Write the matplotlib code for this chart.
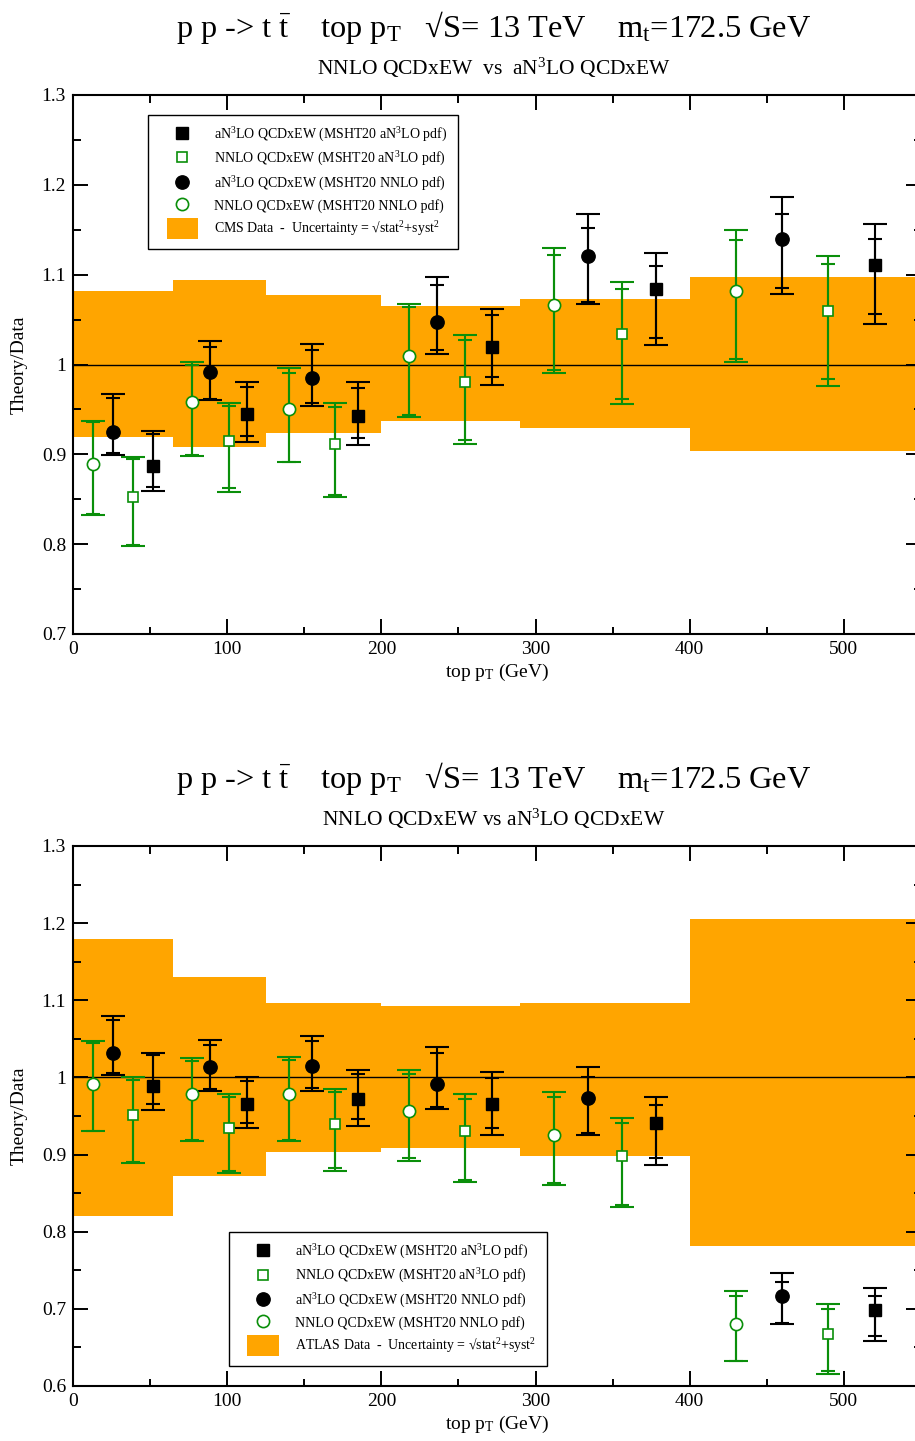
import matplotlib
matplotlib.use("Agg")
import matplotlib.pyplot as plt
from matplotlib.ticker import MultipleLocator, FormatStrFormatter
from matplotlib.patches import Patch, Rectangle
from matplotlib.lines import Line2D
from matplotlib.legend_handler import HandlerPatch
import numpy as np

plt.rcParams['font.family'] = ['Liberation Serif', 'DejaVu Serif']
plt.rcParams['mathtext.fontset'] = 'custom'
plt.rcParams['mathtext.rm'] = 'Liberation Serif'
plt.rcParams['mathtext.it'] = 'Liberation Serif:italic'
plt.rcParams['mathtext.default'] = 'regular'

# bins in top pT (GeV)
bin_edges = [0, 65, 125, 200, 290, 400, 550]

# CMS data uncertainty band
cms_lo = [0.919, 0.908, 0.924, 0.937, 0.929, 0.904]
cms_hi = [1.082, 1.094, 1.077, 1.065, 1.073, 1.097]
# ATLAS data uncertainty band
atlas_lo = [0.821, 0.872, 0.903, 0.909, 0.898, 0.782]
atlas_hi = [1.179, 1.130, 1.097, 1.092, 1.097, 1.205]

# CMS theory/data: center, outer hi, inner hi, inner lo, outer lo
cms_bc = [0.925, 0.9915, 0.985, 1.047, 1.121, 1.140]
cms_bc_ohi = [0.967, 1.026, 1.023, 1.097, 1.167, 1.187]
cms_bc_ihi = [0.963, 1.020, 1.016, 1.089, 1.152, 1.168]
cms_bc_ilo = [0.902, 0.962, 0.957, 1.016, 1.070, 1.085]
cms_bc_olo = [0.899, 0.960, 0.954, 1.012, 1.067, 1.079]

cms_bs = [0.887, 0.945, 0.943, 1.019, 1.084, 1.111]
cms_bs_ohi = [0.926, 0.980, 0.980, 1.062, 1.124, 1.156]
cms_bs_ihi = [0.923, 0.975, 0.974, 1.055, 1.110, 1.140]
cms_bs_ilo = [0.864, 0.920, 0.918, 0.986, 1.030, 1.056]
cms_bs_olo = [0.859, 0.914, 0.910, 0.977, 1.022, 1.045]

cms_gc = [0.889, 0.958, 0.950, 1.009, 1.066, 1.082]
cms_gc_ohi = [0.937, 1.003, 0.996, 1.067, 1.130, 1.150]
cms_gc_ihi = [0.936, 0.999, 0.991, 1.064, 1.122, 1.139]
cms_gc_ilo = [0.834, 0.899, 0.892, 0.944, 0.994, 1.006]
cms_gc_olo = [0.833, 0.898, 0.891, 0.942, 0.991, 1.003]

cms_gs = [0.852, 0.915, 0.911, 0.981, 1.0345, 1.059]
cms_gs_ohi = [0.897, 0.957, 0.957, 1.033, 1.092, 1.121]
cms_gs_ihi = [0.895, 0.954, 0.953, 1.027, 1.084, 1.112]
cms_gs_ilo = [0.799, 0.862, 0.855, 0.916, 0.962, 0.984]
cms_gs_olo = [0.798, 0.858, 0.852, 0.912, 0.956, 0.976]

# ATLAS theory/data
atl_bc = [1.032, 1.014, 1.015, 0.992, 0.973, 0.717]
atl_bc_ohi = [1.079, 1.048, 1.054, 1.039, 1.013, 0.747]
atl_bc_ihi = [1.075, 1.042, 1.047, 1.032, 1.001, 0.735]
atl_bc_ilo = [1.006, 0.985, 0.986, 0.962, 0.928, 0.682]
atl_bc_olo = [1.003, 0.982, 0.983, 0.959, 0.926, 0.680]

atl_bs = [0.989, 0.966, 0.972, 0.965, 0.941, 0.699]
atl_bs_ohi = [1.032, 1.001, 1.010, 1.007, 0.975, 0.727]
atl_bs_ihi = [1.029, 0.996, 1.004, 0.999, 0.964, 0.717]
atl_bs_ilo = [0.965, 0.941, 0.946, 0.934, 0.895, 0.665]
atl_bs_olo = [0.958, 0.934, 0.937, 0.925, 0.887, 0.658]

atl_gc = [0.992, 0.978, 0.979, 0.956, 0.925, 0.681]
atl_gc_ohi = [1.047, 1.025, 1.026, 1.010, 0.981, 0.723]
atl_gc_ihi = [1.045, 1.021, 1.023, 1.005, 0.974, 0.717]
atl_gc_ilo = [0.931, 0.919, 0.919, 0.895, 0.863, 0.633]
atl_gc_olo = [0.930, 0.918, 0.918, 0.892, 0.861, 0.632]

atl_gs = [0.951, 0.934, 0.939, 0.930, 0.898, 0.667]
atl_gs_ohi = [1.000, 0.978, 0.985, 0.978, 0.948, 0.706]
atl_gs_ihi = [0.997, 0.975, 0.981, 0.972, 0.941, 0.700]
atl_gs_ilo = [0.891, 0.879, 0.882, 0.867, 0.835, 0.620]
atl_gs_olo = [0.889, 0.876, 0.879, 0.865, 0.832, 0.615]

labels = [r"aN$^3$LO QCDxEW (MSHT20 aN$^3$LO pdf)",
          r"NNLO QCDxEW (MSHT20 aN$^3$LO pdf)",
          r"aN$^3$LO QCDxEW (MSHT20 NNLO pdf)",
          r"NNLO QCDxEW (MSHT20 NNLO pdf)"]

ORANGE = '#ffa500'
GREEN = '#0a8f0a'

edges = np.array(bin_edges, dtype=float)
lo_e, wid = edges[:-1], np.diff(edges)


def pos(k):
    return lo_e + wid * k / 5.0


def band_rect(legend, orig_handle, xdescent, ydescent, width, height, fontsize):
    # smaller orange box, centred in the handle area
    w, h = 23.0, 15.0
    return Rectangle((-xdescent + (width - w) / 2, -ydescent + (height - h) / 2), w, h)


def draw_points(ax, x, c, ohi, ihi, ilo, olo, color, marker, filled):
    c = np.array(c)
    ax.errorbar(x, c, yerr=[c - np.array(olo), np.array(ohi) - c], fmt='none',
                ecolor=color, elinewidth=1.5, capsize=8.3, capthick=1.5, zorder=4)
    ax.errorbar(x, c, yerr=[c - np.array(ilo), np.array(ihi) - c], fmt='none',
                ecolor=color, elinewidth=1.5, capsize=5.3, capthick=1.5, zorder=4)
    ms = 9.6 if marker == 'o' else 8.6
    if filled:
        ax.plot(x, c, ls='none', marker=marker, ms=ms, color=color, zorder=5)
    else:
        ax.plot(x, c, ls='none', marker=marker, ms=ms - 0.8, mfc='white',
                mec=color, mew=1.2, zorder=5)


def panel(ax, band_lo, band_hi, series, ylim, data_name, leg_anchor):
    ax.fill_between(edges, list(band_lo) + [band_lo[-1]], list(band_hi) + [band_hi[-1]],
                    step='post', color=ORANGE, lw=0, zorder=1)
    ax.axhline(1.0, color='black', lw=1.0, zorder=2)
    (gc, bc, gs, bs) = series
    draw_points(ax, pos(1), *gc, GREEN, 'o', False)
    draw_points(ax, pos(2), *bc, 'black', 'o', True)
    draw_points(ax, pos(3), *gs, GREEN, 's', False)
    draw_points(ax, pos(4), *bs, 'black', 's', True)

    ax.set_xlim(0, 550)
    ax.set_ylim(*ylim)
    ax.xaxis.set_major_locator(MultipleLocator(100))
    ax.xaxis.set_minor_locator(MultipleLocator(50))
    ax.yaxis.set_major_locator(MultipleLocator(0.1))
    ax.yaxis.set_minor_locator(MultipleLocator(0.05))
    ax.yaxis.set_major_formatter(FormatStrFormatter('%g'))
    ax.tick_params(which='both', direction='in', top=True, right=True,
                   width=1.4, labelsize=14, pad=5)
    ax.tick_params(which='major', length=10.8)
    ax.tick_params(which='minor', length=5.4)
    for s in ax.spines.values():
        s.set_linewidth(1.5)
    ax.set_xlabel(r"top p$_{\rm T}$ (GeV)", fontsize=14, labelpad=3)
    ax.set_ylabel("Theory/Data", fontsize=14, labelpad=10)

    band = Patch(facecolor=ORANGE, edgecolor='none')
    handles = [
        Line2D([], [], ls='none', marker='s', ms=8.0, color='black'),
        Line2D([], [], ls='none', marker='s', ms=7.4, mfc='white', mec=GREEN, mew=1.2),
        Line2D([], [], ls='none', marker='o', ms=9.6, color='black'),
        Line2D([], [], ls='none', marker='o', ms=8.8, mfc='white', mec=GREEN, mew=1.2),
        band,
    ]
    leg_labels = labels + [data_name + r" Data  -  Uncertainty = √stat$^2$+syst$^2$"]
    leg = ax.legend(handles, leg_labels, loc='upper left', bbox_to_anchor=leg_anchor,
                    borderaxespad=0, fontsize=10, frameon=True, fancybox=False,
                    edgecolor='black', framealpha=1, labelspacing=0.45,
                    handlelength=3.4, handleheight=1.0, handletextpad=0.6,
                    borderpad=0.75,
                    handler_map={band: HandlerPatch(patch_func=band_rect)})
    leg.get_frame().set_linewidth(1.0)
    leg.set_zorder(10)


fig = plt.figure(figsize=(9.15, 14.41), dpi=100)
W, H = 915.0, 1441.0
ax1 = fig.add_axes([73 / W, 1 - 634 / H, 848 / W, 539 / H])
ax2 = fig.add_axes([73 / W, 1 - 1386 / H, 848 / W, 540 / H])

panel(ax1, cms_lo, cms_hi,
      [(cms_gc, cms_gc_ohi, cms_gc_ihi, cms_gc_ilo, cms_gc_olo),
       (cms_bc, cms_bc_ohi, cms_bc_ihi, cms_bc_ilo, cms_bc_olo),
       (cms_gs, cms_gs_ohi, cms_gs_ihi, cms_gs_ilo, cms_gs_olo),
       (cms_bs, cms_bs_ohi, cms_bs_ihi, cms_bs_ilo, cms_bs_olo)],
      (0.7, 1.3), "CMS", (0.089, 0.963))
panel(ax2, atlas_lo, atlas_hi,
      [(atl_gc, atl_gc_ohi, atl_gc_ihi, atl_gc_ilo, atl_gc_olo),
       (atl_bc, atl_bc_ohi, atl_bc_ihi, atl_bc_ilo, atl_bc_olo),
       (atl_gs, atl_gs_ohi, atl_gs_ihi, atl_gs_ilo, atl_gs_olo),
       (atl_bs, atl_bs_ohi, atl_bs_ihi, atl_bs_ilo, atl_bs_olo)],
      (0.6, 1.3), "ATLAS", (0.184, 0.285))

title = r"p p -> t $\bar{\rm t}$    top p$_{\rm T}$   √S= 13 TeV    m$_{\rm t}$=172.5 GeV"
xc = (73 + 915) / 2 / W
fig.text(xc, 1 - 37 / H, title, ha='center', va='baseline', fontsize=23.3)
fig.text(xc, 1 - 75 / H, r"NNLO QCDxEW  vs  aN$^3$LO QCDxEW", ha='center', va='baseline', fontsize=15.5)
fig.text(xc, 1 - 788 / H, title, ha='center', va='baseline', fontsize=23.3)
fig.text(xc, 1 - 826 / H, r"NNLO QCDxEW vs aN$^3$LO QCDxEW", ha='center', va='baseline', fontsize=15.5)

fig.savefig("out.png", dpi=100)
